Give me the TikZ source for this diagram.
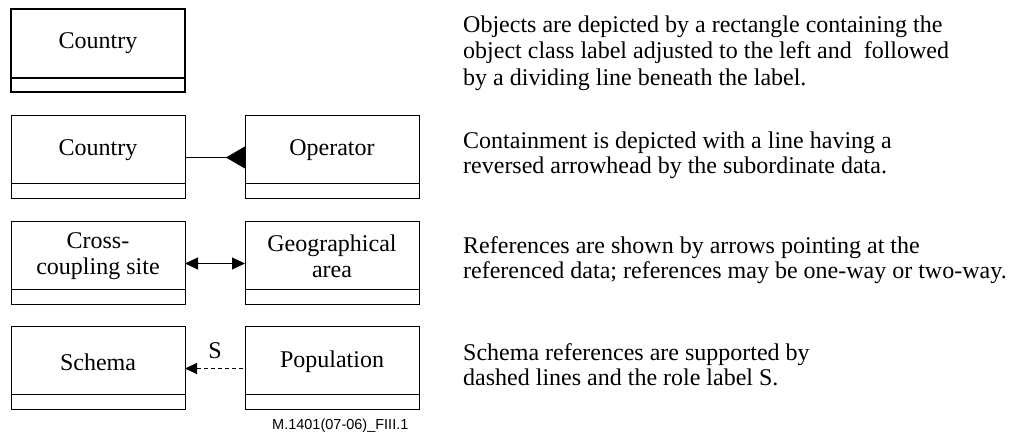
\documentclass[tikz,border=0pt]{standalone}
\usepackage{fontspec}
\setmainfont{Liberation Serif}
\newfontfamily\footfont{Liberation Sans}
\usetikzlibrary{arrows.meta,calc}
\begin{document}
\begin{tikzpicture}[x=1pt,y=1pt,
  obj/.style={draw, line width=1pt, minimum width=174pt, minimum height=83pt, inner sep=0pt, outer sep=0pt},
  objthick/.style={obj, line width=2.6pt},
  divline/.style={line width=1pt},
  lbl/.style={font=\fontsize{24}{26}\selectfont, align=center, inner sep=0pt},
  desc/.style={font=\fontsize{24}{26}\selectfont, anchor=base west, inner sep=0pt},
  conn/.style={line width=1pt},
  dashconn/.style={conn, dash pattern=on 4pt off 3pt},
  foot/.style={font=\footfont\fontsize{14.5}{16}\selectfont, anchor=base west, inner sep=0pt}
]
\useasboundingbox (0,0) rectangle (1010,434);

% Row 1
\node[objthick] (b1) at (98,383.5) {};
\draw[line width=2.6pt] ([yshift=14pt]b1.south west) -- ([yshift=14pt]b1.south east);
\node[lbl] (t1) at (98,391) {Country};

% Row 2
\node[obj] (b2l) at (98,276.5) {};
\node[obj] (b2r) at (332,276.5) {};
\draw[divline] ([yshift=15pt]b2l.south west) -- ([yshift=15pt]b2l.south east);
\draw[divline] ([yshift=15pt]b2r.south west) -- ([yshift=15pt]b2r.south east);
\node[lbl] (t2l) at (98,284) {Country};
\node[lbl] (t2r) at (332,284) {Operator};
\draw[conn, -{Triangle[reversed, length=19pt, width=22pt]}] (b2l.east) -- (b2r.west);

% Row 3
\node[obj] (b3l) at (98,170.5) {};
\node[obj] (b3r) at (332,170.5) {};
\draw[divline] ([yshift=15pt]b3l.south west) -- ([yshift=15pt]b3l.south east);
\draw[divline] ([yshift=15pt]b3r.south west) -- ([yshift=15pt]b3r.south east);
\node[lbl] (t3l) at (98,178) {Cross-\\coupling site};
\node[lbl] (t3r) at (332,178) {Geographical\\area};
\draw[conn, {Triangle[length=13pt,width=12pt]}-{Triangle[length=13pt,width=12pt]}] (b3l.east) -- (b3r.west);

% Row 4
\node[obj] (b4l) at (98,65.5) {};
\node[obj] (b4r) at (332,65.5) {};
\draw[divline] ([yshift=15pt]b4l.south west) -- ([yshift=15pt]b4l.south east);
\draw[divline] ([yshift=15pt]b4r.south west) -- ([yshift=15pt]b4r.south east);
\node[lbl] (t4l) at (98,72) {Schema};
\node[lbl] (t4r) at (332,72) {Population};
\draw[dashconn, {Triangle[length=12pt,width=11pt]}-] (b4l.east) -- node[lbl, above=9pt] (s4) {S} (b4r.west);

% Descriptions
\node[desc] (d1a) at (463,401) {Objects are depicted by a rectangle containing the};
\node[desc] (d1b) at (463,375) {object class label adjusted to the left and\ \ followed};
\node[desc] (d1c) at (463,348) {by a dividing line beneath the label.};

\node[desc] (d2a) at (463,285.5) {Containment is depicted with a line having a};
\node[desc] (d2b) at (463,260.5) {reversed arrowhead by the subordinate data.};

\node[desc] (d3a) at (463,180) {References are shown by arrows pointing at the};
\node[desc] (d3b) at (463,155) {referenced data; references may be one-way or two-way.};

\node[desc] (d4a) at (463,73) {Schema references are supported by};
\node[desc] (d4b) at (463,48) {dashed lines and the role label S.};

\node[foot] (fn) at (272,5) {M.1401(07-06)\_FIII.1};
\end{tikzpicture}
\end{document}
